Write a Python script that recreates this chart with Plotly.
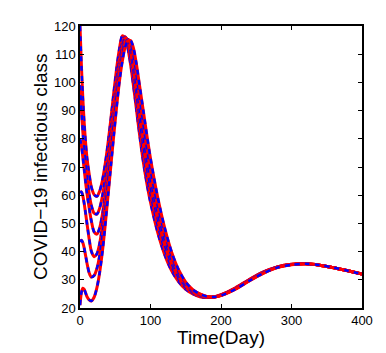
import plotly.graph_objects as go

t = [0, 2, 4, 6, 8, 10, 13, 16, 20, 24, 28, 32, 36, 40, 44, 48, 52, 56,
     60, 64, 68, 72, 76, 80, 85, 90, 95, 100, 110, 120, 130, 140, 150,
     160, 170, 180, 190, 200, 220, 240, 260, 280, 300, 320, 340, 360, 380, 400]

# infectious class, one list per initial condition
i_120 = [120, 106, 94.5, 85.5, 78.5, 73, 67.5, 63, 60.2, 59.6, 61.5, 65.5, 71.5, 79,
         87.5, 96.5, 105, 112, 116.5, 115.8, 112, 106, 98.5, 90.5, 80.5, 71.5,
         64, 57.5, 47, 39, 33.2, 29.3, 26.6, 25, 24, 23.7, 23.9, 24.7,
         27.1, 30.1, 32.8, 34.6, 35.5, 35.7, 35.2, 34.3, 33.2, 32.0]
i_99 = [99, 90, 82.5, 76, 70.5, 66, 60.5, 56.5, 53.6, 53.3, 55.5, 60, 66.5, 74.5,
        83.5, 92.5, 101, 108.5, 114, 116.2, 114, 108.5, 101.5, 93.5, 83.5, 74.5,
        66.5, 60.5, 49.5, 40.8, 34.5, 30.2, 27.2, 25.3, 24.2, 23.8, 23.9, 24.6,
        27.0, 30.0, 32.7, 34.6, 35.5, 35.7, 35.2, 34.3, 33.2, 32.0]
i_80 = [80, 77.5, 73.5, 69, 64.5, 60.5, 55.5, 51, 47, 46.2, 48.5, 53.5, 61, 70,
        79.5, 89, 98, 106, 112.5, 115.8, 115, 110.5, 104, 96.5, 86.5, 77.5,
        69.5, 63, 51.8, 42.5, 35.7, 30.9, 27.8, 25.7, 24.5, 23.9, 23.9, 24.6,
        26.9, 29.9, 32.6, 34.5, 35.4, 35.7, 35.2, 34.3, 33.2, 32.0]
i_61 = [61, 61.2, 59.8, 57, 53.5, 49.8, 44.5, 40.2, 38.2, 39.2, 43, 49.5, 58, 67.5,
        77.5, 87.5, 96.5, 104.5, 110.8, 114.6, 115.2, 112.5, 106.8, 99.5, 90, 80.8,
        72.5, 65.8, 54, 44.4, 37, 31.8, 28.3, 26, 24.7, 24, 23.9, 24.5,
        26.8, 29.8, 32.5, 34.5, 35.4, 35.7, 35.2, 34.3, 33.2, 32.0]
i_43 = [43.5, 44, 43.2, 41.2, 38.5, 35.8, 32.5, 31, 31.5, 34, 38.8, 46, 55, 65,
        75.5, 85.5, 95, 103, 109.5, 113.8, 115.2, 113.8, 109.5, 103, 94, 85,
        76.5, 69, 56.5, 46.5, 38.4, 32.7, 28.8, 26.3, 24.9, 24, 23.9, 24.5,
        26.7, 29.7, 32.4, 34.4, 35.4, 35.7, 35.2, 34.3, 33.2, 32.0]
i_21 = [21, 25.5, 27, 26.6, 25.3, 24, 22.9, 22.5, 23.8, 27.2, 32.8, 40.5, 50, 60.5,
        71, 81.5, 91.5, 100.5, 107.5, 112.5, 114.8, 114.8, 112, 106.5, 98, 89.5,
        81, 73, 59.5, 48.5, 39.8, 33.5, 29.2, 26.5, 25, 24.1, 23.9, 24.4,
        26.6, 29.6, 32.3, 34.3, 35.3, 35.7, 35.2, 34.3, 33.2, 32.0]

curves = [i_120, i_99, i_80, i_61, i_43, i_21]

fig = go.Figure()

# red solid line with a blue dashed line on top, for each initial value
for y in curves:
    fig.add_trace(go.Scatter(x=t, y=y, mode='lines', showlegend=False,
                             line=dict(color='#ff0000', width=3, shape='spline', smoothing=0.8)))
    fig.add_trace(go.Scatter(x=t, y=y, mode='lines', showlegend=False,
                             line=dict(color='#0000ff', width=2.5, dash='5px,5px',
                                       shape='spline', smoothing=0.8)))

axis_style = dict(showline=True, linecolor='black', linewidth=1.5, mirror='ticks',
                  ticks='inside', ticklen=4, tickcolor='black', showgrid=False,
                  zeroline=False, automargin=False,
                  tickfont=dict(family='Liberation Sans, Arial', size=13, color='black'))

fig.update_xaxes(range=[0, 400], tickvals=[0, 100, 200, 300, 400], **axis_style)
fig.update_yaxes(range=[20, 120], tickvals=list(range(20, 121, 10)), **axis_style)

title_font = dict(family='Liberation Sans, Arial', size=19, color='black')
# axis titles as annotations so they sit where the original has them
fig.add_annotation(text='Time(Day)', xref='paper', yref='paper', x=0.5, y=0,
                   yshift=-29, xanchor='center', yanchor='middle', showarrow=False,
                   font=title_font)
fig.add_annotation(text='COVID\u221219 infectious class', xref='paper', yref='paper',
                   x=0, y=0.5, xshift=-40, xanchor='center', yanchor='middle',
                   textangle=-90, showarrow=False, font=title_font)

# page body has an 8px margin, so the figure is 8px smaller than the window
fig.update_layout(width=378, height=345, plot_bgcolor='white', paper_bgcolor='white',
                  margin=dict(l=72, r=24, t=18, b=45))

fig.write_html("out.html")
